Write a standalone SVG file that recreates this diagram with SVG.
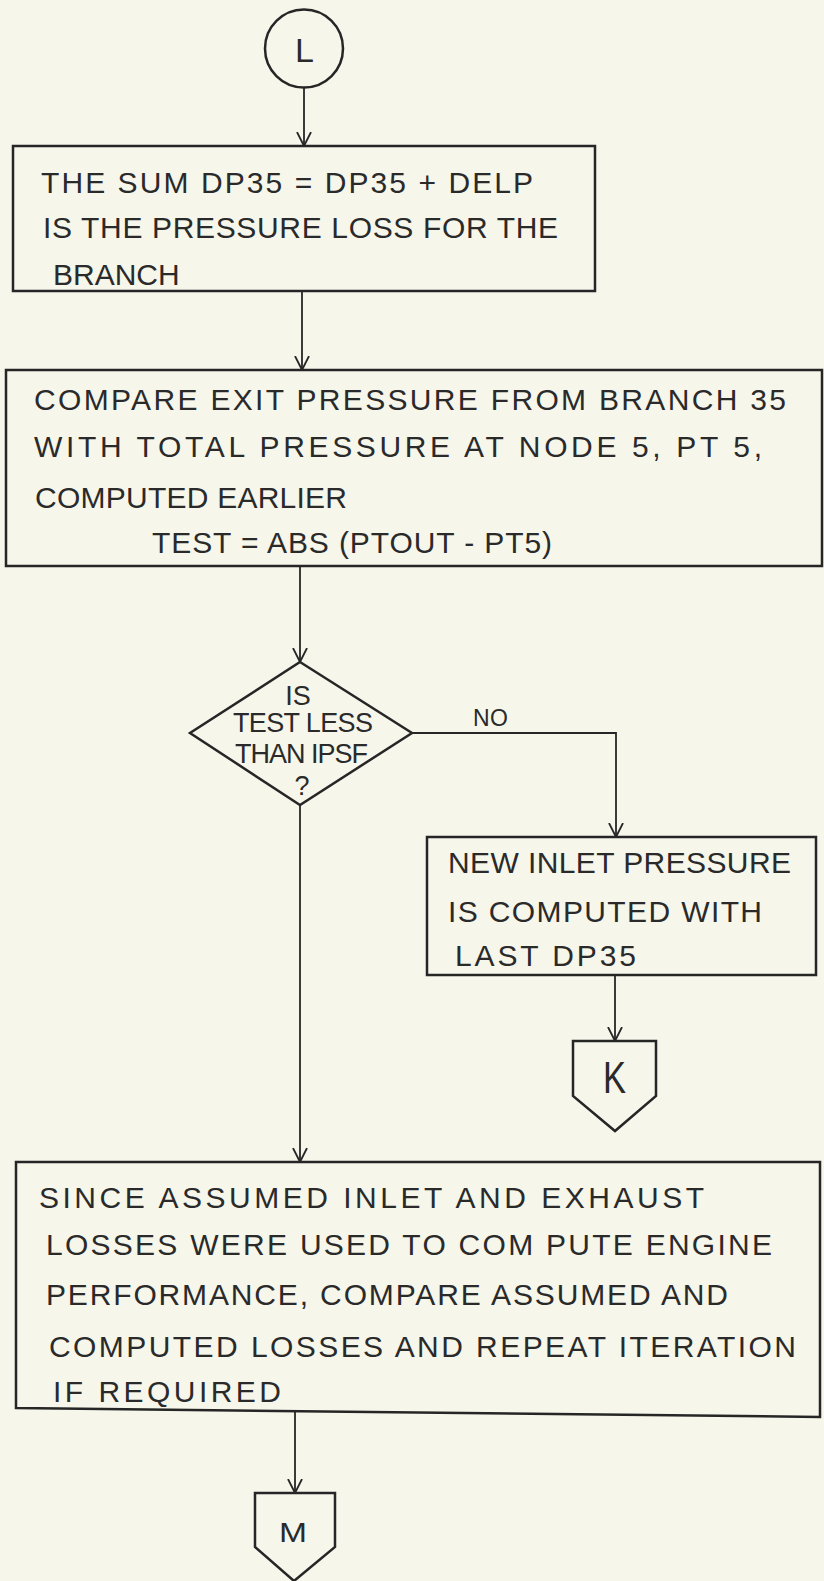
<svg xmlns="http://www.w3.org/2000/svg" width="824" height="1581" viewBox="0 0 824 1581">
<style>
.bg{fill:#f6f6eb}
.s{fill:none;stroke:#262626;stroke-width:2.5;stroke-linejoin:miter}
.c{fill:none;stroke:#262626;stroke-width:1.8}
.t{font-family:"Liberation Sans",Arial,sans-serif;font-size:30px;fill:#2a2a2a}
.d{font-size:27px}
.m{text-anchor:middle}
</style>
<defs>
<marker id="ah" viewBox="0 0 14 16" refX="14" refY="8" markerWidth="14" markerHeight="16" markerUnits="userSpaceOnUse" orient="auto">
<path d="M0,1 L14,8 L0,15" fill="none" stroke="#262626" stroke-width="1.8"/>
</marker>
</defs>
<rect class="bg" x="0" y="0" width="824" height="1581"/>
<g id="connectors">
<line class="c" x1="304" y1="87" x2="304" y2="146" marker-end="url(#ah)"/>
<line class="c" x1="302" y1="291" x2="302" y2="370" marker-end="url(#ah)"/>
<line class="c" x1="300" y1="566" x2="300" y2="662" marker-end="url(#ah)"/>
<polyline class="c" points="412,733 616,733 616,837" marker-end="url(#ah)"/>
<line class="c" x1="300" y1="805" x2="300" y2="1162" marker-end="url(#ah)"/>
<line class="c" x1="615" y1="975" x2="615" y2="1041" marker-end="url(#ah)"/>
<line class="c" x1="295" y1="1412" x2="295" y2="1493" marker-end="url(#ah)"/>
<text class="t" x="473" y="726" style="font-size:23px" textLength="35">NO</text>
</g>
<g id="nodeL">
<circle class="s" cx="304" cy="48.5" r="39"/>
<text class="t" x="295" y="62" style="font-size:34px">L</text>
</g>
<g id="box1">
<rect class="s" x="13" y="146" width="582" height="145"/>
<text class="t" x="41" y="193" textLength="492">THE SUM  DP35 = DP35 + DELP</text>
<text class="t" x="43" y="238" textLength="515">IS  THE  PRESSURE  LOSS  FOR  THE</text>
<text class="t" x="53" y="285">BRANCH</text>
</g>
<g id="box2">
<rect class="s" x="6" y="370" width="816" height="196"/>
<text class="t" x="34" y="410" textLength="752">COMPARE EXIT PRESSURE FROM  BRANCH 35</text>
<text class="t" x="34" y="457" textLength="728">WITH  TOTAL  PRESSURE AT  NODE 5, PT 5,</text>
<text class="t" x="35" y="508" textLength="312">COMPUTED EARLIER</text>
<text class="t" x="152" y="553" textLength="400">TEST = ABS (PTOUT - PT5)</text>
</g>
<g id="decision">
<polygon class="s" points="300,662 412,733 300,805 190,733"/>
<text class="t d m" x="298" y="705">IS</text>
<text class="t d" x="233" y="732" textLength="140">TEST LESS</text>
<text class="t d" x="235" y="763" textLength="133">THAN IPSF</text>
<text class="t d m" x="302" y="795">?</text>
</g>
<g id="box3">
<rect class="s" x="427" y="837" width="389" height="138"/>
<text class="t" x="448" y="873" textLength="343">NEW  INLET  PRESSURE</text>
<text class="t" x="448" y="922" textLength="314">IS  COMPUTED  WITH</text>
<text class="t" x="455" y="966" textLength="181">LAST DP35</text>
</g>
<g id="nodeK">
<polygon class="s" points="573,1041 656,1041 656,1096 615,1131 573,1096"/>
<text class="t" x="603" y="1093" style="font-size:45px" textLength="23" lengthAdjust="spacingAndGlyphs">K</text>
</g>
<g id="box4">
<polygon class="s" points="16,1162 820,1162 820,1417 16,1408"/>
<text class="t" x="39" y="1208" textLength="665">SINCE  ASSUMED  INLET  AND  EXHAUST</text>
<text class="t" x="46" y="1255" textLength="726">LOSSES  WERE  USED  TO  COM PUTE  ENGINE</text>
<text class="t" x="46" y="1305" textLength="682">PERFORMANCE, COMPARE ASSUMED  AND</text>
<text class="t" x="49" y="1357" textLength="747">COMPUTED LOSSES AND  REPEAT  ITERATION</text>
<text class="t" x="53" y="1402" textLength="228">IF  REQUIRED</text>
</g>
<g id="nodeM">
<polygon class="s" points="255,1493 335,1493 335,1547 294,1581 255,1547"/>
<text class="t" x="279" y="1542" style="font-size:28px" textLength="28" lengthAdjust="spacingAndGlyphs">M</text>
</g>
</svg>
